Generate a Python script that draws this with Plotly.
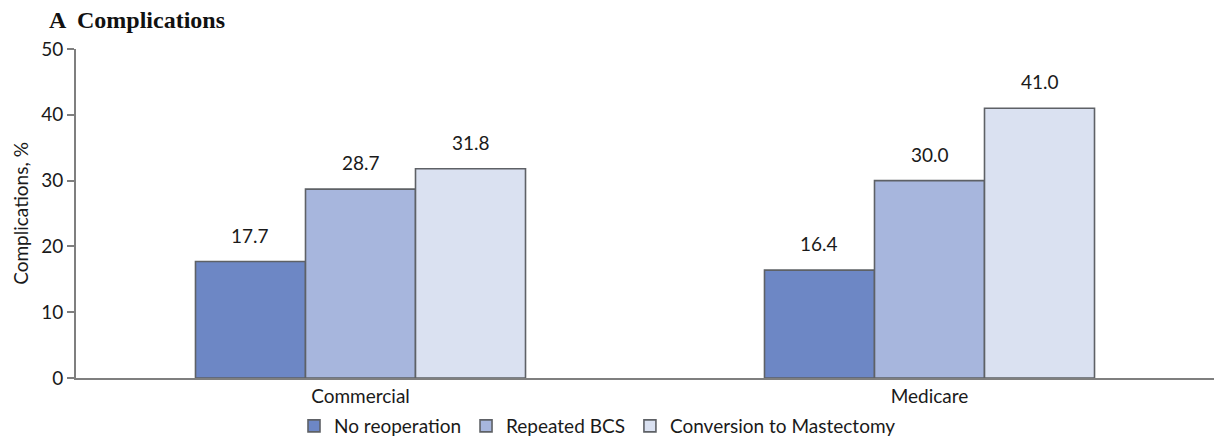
import plotly.graph_objects as go

categories = ["Commercial", "Medicare"]
series_names = ["No reoperation", "Repeated BCS", "Conversion to Mastectomy"]
no_reoperation = [17.7, 16.4]
repeated_bcs = [28.7, 30.0]
conversion_mastectomy = [31.8, 41.0]
y_ticks = [0, 10, 20, 30, 40, 50]

colors = ["#6D87C5", "#A7B6DD", "#DAE1F1"]
font_family = "Lato, 'Open Sans', sans-serif"
W, H = 1214, 439
ML, MR, MT, MB = 76, 0, 49, 61
plot_w = W - ML - MR
plot_h = H - MT - MB

fig = go.Figure()
all_series = [no_reoperation, repeated_bcs, conversion_mastectomy]
for name, vals, col in zip(series_names, all_series, colors):
    fig.add_trace(go.Bar(
        x=categories, y=vals, name=name,
        marker=dict(color=col, line=dict(color="#5E6166", width=1.6)),
    ))

bargap = 0.42
bar_px = plot_w / 2 * (1 - bargap) / 3
annotations = []
for i, vals in enumerate(all_series):
    for cat, v in zip(categories, vals):
        annotations.append(dict(
            x=cat, y=v, xref="x", yref="y", text=f"{v:.1f}",
            showarrow=False, xshift=(i - 1) * bar_px, yshift=13,
            yanchor="bottom", font=dict(size=19, color="#1a1a1a", family=font_family),
        ))

annotations.append(dict(
    text="<b>A  Complications</b>", xref="paper", yref="paper",
    x=(47 - ML) / plot_w, xanchor="left",
    y=1 + (MT - 35) / plot_h, yanchor="bottom",
    showarrow=False, font=dict(family="'Liberation Serif', serif", size=24, color="#111"),
))

fig.update_layout(
    width=W, height=H,
    margin=dict(l=ML, r=MR, t=MT, b=MB, autoexpand=False),
    paper_bgcolor="white", plot_bgcolor="white",
    barmode="group", bargap=bargap, bargroupgap=0,
    font=dict(family=font_family, size=19, color="#1a1a1a"),
    showlegend=True,
    legend=dict(orientation="h", x=(294 - ML) / plot_w, xanchor="left",
                yref="container", y=(H - 426) / H, yanchor="middle",
                font=dict(size=19, family=font_family), itemwidth=30,
                traceorder="normal"),
    xaxis=dict(range=[-0.5, 1.5], showline=True, linecolor="#7F7F7F", linewidth=1.6,
               ticks="", showgrid=False, tickfont=dict(size=19)),
    yaxis=dict(range=[0, 50], tickvals=y_ticks, showline=True, linecolor="#7F7F7F",
               linewidth=1.6, ticks="outside", ticklen=7, tickcolor="#7F7F7F",
               tickwidth=1.5, showgrid=False, zeroline=False,
               tickfont=dict(size=19),
               title=dict(text="Complications, %", font=dict(size=19), standoff=8)),
    annotations=annotations,
)

fig.write_html("out.html")
